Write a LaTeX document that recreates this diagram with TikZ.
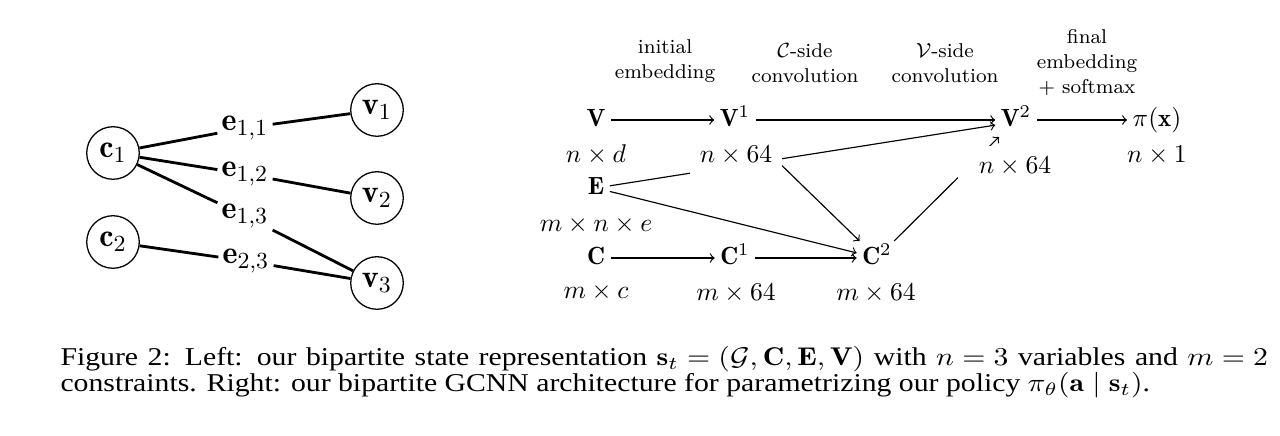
\documentclass[tikz,border=0pt]{standalone}
\usepackage{amsmath}
\usepackage{amssymb}
\usepackage{graphicx}
\usepackage{fontspec}
\newfontfamily\capfont{Liberation Serif}
\usepackage{tikz}

\begin{document}
\begin{tikzpicture}[x=0.39pt, y=-0.39pt,
		vert/.style={draw, circle, line width=0.5, minimum size=20.5pt, inner sep=1pt, font=\fontsize{12.5}{14}\selectfont},
		elbl/.style={inner sep=1.5pt, font=\fontsize{12.5}{14}\selectfont},
		edge/.style={line width=1.1},
		blk/.style={inner sep=2pt, text height=1.6ex, text depth=0.45ex, font=\fontsize{9.7}{11}\selectfont},
		dims/.style={inner xsep=4pt, inner ysep=4pt, fill=white, font=\fontsize{9.7}{11}\selectfont},
		hdr/.style={align=center, font=\fontsize{7.8}{9.75}\selectfont},
		flow/.style={->, line width=0.45}]
	\useasboundingbox (0,0) rectangle (1280,436);
	
	% bipartite graph
	\node[vert] (c1) at (113,153) {$\mathbf{c}_1$};
	\node[vert] (c2) at (113,242) {$\mathbf{c}_2$};
	\node[vert] (v1) at (377,110) {$\mathbf{v}_1$};
	\node[vert] (v2) at (377,198) {$\mathbf{v}_2$};
	\node[vert] (v3) at (377,283) {$\mathbf{v}_3$};
	\node[elbl] (e11) at (245,128) {$\mathbf{e}_{1,1}$};
	\node[elbl] (e12) at (245,174) {$\mathbf{e}_{1,2}$};
	\node[elbl] (e13) at (245,216) {$\mathbf{e}_{1,3}$};
	\node[elbl] (e23) at (246,261) {$\mathbf{e}_{2,3}$};
	\draw[edge] (c1) -- (e11) -- (v1);
	\draw[edge] (c1) -- (e12) -- (v2);
	\draw[edge] (c1) -- (e13) -- (v3);
	\draw[edge] (c2) -- (e23) -- (v3);
	
	% GCNN
	\node[blk] (V) at (596,120) {$\mathbf{V}$};
	\node[blk] (V1) at (735,120) {$\mathbf{V}^1$};
	\node[blk] (V2) at (1016,120) {$\mathbf{V}^2$};
	\node[blk] (pix) at (1157,120) {$\pi(\mathbf{x})$};
	\node[blk] (E) at (596,188) {$\mathbf{E}$};
	\node[blk] (C) at (596,258) {$\mathbf{C}$};
	\node[blk] (C1) at (735,258) {$\mathbf{C}^1$};
	\node[blk] (C2) at (877,258) {$\mathbf{C}^2$};
	
	\node[hdr] (h1) at (665,61) {initial\\embedding};
	\node[hdr] (h2) at (805,63) {$\mathcal{C}$-side\\convolution};
	\node[hdr] (h3) at (945,63) {$\mathcal{V}$-side\\convolution};
	\node[hdr] (h4) at (1087,63) {final\\embedding\\+ softmax};
	
	\draw[flow] (V) -- (V1);
	\draw[flow] (V1) -- (V2);
	\draw[flow] (V2) -- (pix);
	\draw[flow] (E) -- ([yshift=-2pt]V2.west);
	\draw[flow] (V1) -- (C2);
	\draw[flow] (E) -- (C2);
	\draw[flow] (C) -- (C1);
	\draw[flow] (C1) -- (C2);
	\draw[flow] (C2) -- (V2);
	
	\node[dims] (dV) at (596,155) {$n\times d$};
	\node[dims] (dV1) at (736,155) {$n\times 64$};
	\node[dims, inner xsep=8pt] (dV2) at (1015,166) {$n\times 64$};
	\node[dims] (dpi) at (1157,155) {$n\times 1$};
	\node[dims] (dE) at (596,225) {$m\times n\times e$};
	\node[dims] (dC) at (596,292) {$m\times c$};
	\node[dims] (dC1) at (736,293) {$m\times 64$};
	\node[dims] (dC2) at (876,293) {$m\times 64$};
	
	% caption
	\node[anchor=base west, inner sep=0pt, font=\capfont\fontsize{10}{10}\selectfont] (cap) at (60,366) {\scalebox{1.16}[1]{\parbox[t]{406pt}{\thickmuskip=5mu\medmuskip=4mu Figure 2: Left: our bipartite state representation $\mathbf{s}_t=(\mathcal{G},\mathbf{C},\mathbf{E},\mathbf{V})$ with $n=3$ variables and $m=2$\linebreak constraints. Right: our bipartite GCNN architecture for parametrizing our policy $\pi_\theta(\mathbf{a}\mid\mathbf{s}_t)$.}}};
\end{tikzpicture}
\end{document}
